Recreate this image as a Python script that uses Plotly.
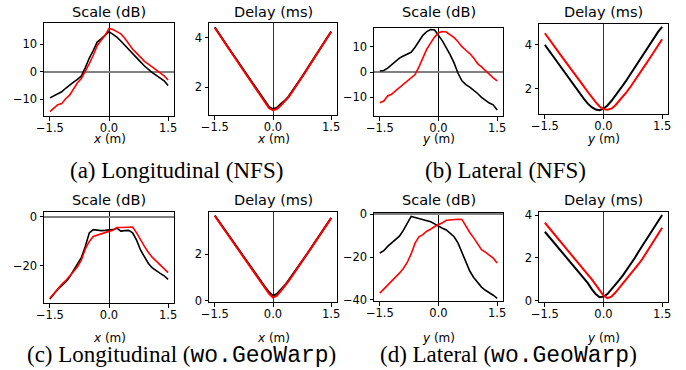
import plotly.graph_objects as go

W, H = 686, 370

# common x grid (m)
X = [-1.5, -1.4, -1.3, -1.2, -1.1, -1.0, -0.9, -0.8, -0.7, -0.6, -0.5, -0.4, -0.3, -0.2, -0.1,
     0.0, 0.1, 0.2, 0.3, 0.4, 0.5, 0.6, 0.7, 0.8, 0.9, 1.0, 1.1, 1.2, 1.3, 1.4, 1.5]

# (a) Longitudinal (NFS)
a_scale_black = [-9.5, -8.8, -8.2, -7.3, -6.0, -4.8, -3.8, -2.8, -1.5, 1.5, 5.0, 7.7, 10.8, 12.0, 13.2,
                 14.6, 13.6, 12.6, 11.2, 9.6, 8.0, 6.6, 5.2, 3.6, 2.1, 0.8, -0.3, -1.3, -2.3, -3.3, -5.0]
a_scale_red = [-14.5, -13.2, -12.0, -11.6, -9.8, -8.5, -6.0, -4.0, -2.5, 0.0, 3.0, 6.0, 9.5, 11.5, 13.2,
               15.8, 15.4, 14.6, 13.8, 12.2, 10.2, 8.2, 6.8, 5.3, 3.8, 2.8, 1.8, 0.6, -0.5, -1.5, -3.0]
a_delay_black = [4.42, 4.17, 3.94, 3.71, 3.48, 3.25, 3.02, 2.79, 2.56, 2.32, 2.08, 1.85, 1.61, 1.38, 1.2,
                 1.12, 1.17, 1.32, 1.45, 1.62, 1.84, 2.07, 2.3, 2.54, 2.79, 3.04, 3.28, 3.52, 3.76, 4.01, 4.25]
a_delay_red = [4.4, 4.15, 3.92, 3.69, 3.46, 3.23, 3.0, 2.77, 2.54, 2.3, 2.06, 1.83, 1.58, 1.34, 1.15,
               1.07, 1.12, 1.26, 1.42, 1.6, 1.82, 2.05, 2.28, 2.52, 2.77, 3.02, 3.27, 3.5, 3.75, 4.0, 4.24]

# (b) Lateral (NFS)
b_scale_black = [0.4, 0.6, 1.5, 2.8, 4.2, 5.5, 6.3, 6.9, 7.8, 9.8, 12.2, 14.5, 16.0, 16.8, 16.6,
                 14.5, 12.3, 9.5, 6.8, 3.5, -0.5, -3.5, -5.0, -6.0, -7.2, -8.5, -10.0, -11.2, -12.3, -13.0, -15.0]
b_scale_red = [-12.2, -11.5, -9.5, -8.8, -7.5, -6.2, -5.0, -3.5, -2.5, -1.0, 2.0, 5.5, 9.0, 11.5, 13.8,
               15.5, 16.0, 15.8, 14.8, 13.6, 12.0, 10.0, 8.6, 7.3, 5.5, 3.3, 2.0, 0.5, -1.2, -2.3, -3.5]
b_delay_black = [4.0, 3.77, 3.52, 3.27, 3.02, 2.77, 2.52, 2.27, 2.03, 1.79, 1.55, 1.33, 1.17, 1.06, 1.03,
                 1.1, 1.25, 1.45, 1.68, 1.92, 2.17, 2.43, 2.7, 2.97, 3.25, 3.53, 3.8, 4.08, 4.35, 4.6, 4.82]
b_delay_red = [4.53, 4.3, 4.05, 3.8, 3.55, 3.3, 3.07, 2.85, 2.6, 2.35, 2.1, 1.86, 1.62, 1.4, 1.2,
               1.08, 1.05, 1.1, 1.25, 1.45, 1.65, 1.88, 2.12, 2.37, 2.63, 2.9, 3.17, 3.44, 3.71, 3.99, 4.26]

# (c) Longitudinal (wo.GeoWarp)
c_scale_black = [-33.5, -31.5, -29.5, -28.0, -26.5, -24.5, -22.0, -19.5, -16.5, -12.0, -6.5, -5.2, -5.5, -5.6, -5.5,
                 -5.5, -5.2, -4.6, -5.8, -5.6, -5.5, -6.5, -9.5, -13.5, -16.5, -19.0, -20.8, -22.0, -23.0, -24.0, -25.5]
c_scale_red = [-33.2, -31.2, -29.2, -27.5, -26.0, -24.3, -22.3, -20.3, -17.5, -13.0, -10.0, -8.0, -7.4, -6.9, -6.5,
               -5.9, -5.4, -4.3, -4.3, -4.2, -4.1, -4.1, -6.5, -9.5, -12.0, -14.5, -16.5, -18.0, -19.5, -21.0, -22.7]
c_delay_black = [3.67, 3.43, 3.19, 2.95, 2.71, 2.47, 2.22, 1.98, 1.73, 1.49, 1.25, 1.01, 0.79, 0.58, 0.37,
                 0.22, 0.3, 0.47, 0.66, 0.88, 1.11, 1.34, 1.58, 1.82, 2.07, 2.32, 2.57, 2.82, 3.07, 3.32, 3.57]
c_delay_red = [3.65, 3.41, 3.17, 2.93, 2.69, 2.45, 2.2, 1.96, 1.71, 1.47, 1.22, 0.98, 0.76, 0.55, 0.3,
               0.14, 0.22, 0.42, 0.62, 0.85, 1.08, 1.32, 1.56, 1.8, 2.05, 2.3, 2.55, 2.8, 3.05, 3.3, 3.55]

# (d) Lateral (wo.GeoWarp)
d_scale_black = [-18.1, -17.0, -15.0, -13.4, -12.0, -10.2, -7.5, -4.0, -1.0, -1.5, -2.0, -2.4, -2.8, -3.5, -4.5,
                 -5.6, -6.5, -7.3, -9.0, -10.5, -13.5, -18.0, -22.5, -26.5, -29.5, -32.0, -34.0, -35.5, -36.5, -37.8, -39.3]
d_scale_red = [-36.8, -35.0, -33.2, -31.3, -29.5, -27.5, -25.3, -22.5, -18.5, -13.5, -10.5, -9.5, -7.9, -7.0, -5.7,
               -4.9, -4.0, -2.8, -2.6, -2.2, -2.3, -2.4, -5.5, -8.5, -11.0, -14.0, -16.5, -17.7, -19.0, -20.5, -22.8]
d_delay_black = [3.22, 3.0, 2.78, 2.56, 2.34, 2.13, 1.92, 1.7, 1.49, 1.27, 1.05, 0.83, 0.55, 0.32, 0.17,
                 0.2, 0.32, 0.52, 0.74, 0.97, 1.2, 1.45, 1.7, 2.0, 2.3, 2.58, 2.87, 3.15, 3.43, 3.72, 4.0]
d_delay_red = [3.64, 3.42, 3.2, 2.98, 2.76, 2.55, 2.35, 2.15, 1.93, 1.7, 1.47, 1.24, 1.0, 0.76, 0.5,
               0.25, 0.13, 0.2, 0.38, 0.6, 0.8, 1.02, 1.25, 1.48, 1.72, 1.97, 2.25, 2.53, 2.82, 3.11, 3.41]

x_tickvals = [-1.5, 0.0, 1.5]
x_ticktext = ["\u22121.5", "0.0", "1.5"]

titles = ["Scale (dB)", "Delay (ms)"]
captions = ["(a) Longitudinal (NFS)", "(b) Lateral (NFS)",
            "(c) Longitudinal (<span style='font-family:Liberation Mono'>wo.GeoWarp</span>)",
            "(d) Lateral (<span style='font-family:Liberation Mono'>wo.GeoWarp</span>)"]

# panel definitions: (pixel box left, right, top, bottom), y range, y ticks, data, axis letter, is_scale
panels = [
    ((44, 174, 23, 116), [-16.1, 17.75], [-10, 0, 10], a_scale_black, a_scale_red, "x", True),
    ((209, 337, 23, 115), [0.88, 4.59], [2, 4], a_delay_black, a_delay_red, "x", False),
    ((374, 503, 28, 116), [-17.4, 17.4], [-10, 0, 10], b_scale_black, b_scale_red, "y", True),
    ((539, 668, 24, 114), [0.86, 4.95], [2, 4], b_delay_black, b_delay_red, "y", False),
    ((44, 174, 212, 303), [-35.1, 2.0], [-20, 0], c_scale_black, c_scale_red, "x", True),
    ((209, 337, 212, 302), [-0.05, 3.82], [0, 2], c_delay_black, c_delay_red, "x", False),
    ((374, 503, 213, 301), [-40.5, 0.6], [-40, -20, 0], d_scale_black, d_scale_red, "y", True),
    ((539, 668, 212, 302), [-0.05, 4.14], [0, 2, 4], d_delay_black, d_delay_red, "y", False),
]

FONT = "DejaVu Sans"
fig = go.Figure()
layout = dict(width=W, height=H, margin=dict(l=0, r=0, t=0, b=0, autoexpand=False),
              paper_bgcolor="white", plot_bgcolor="white", showlegend=False,
              font=dict(family=FONT, size=11.5, color="black"))
annotations = []

def fmt(v):
    return str(v).replace("-", "\u2212")

for i, (box, yr, yt, yb, yred, letter, is_scale) in enumerate(panels):
    n = i + 1
    xa = "xaxis" if n == 1 else f"xaxis{n}"
    ya = "yaxis" if n == 1 else f"yaxis{n}"
    xref = "x" if n == 1 else f"x{n}"
    yref = "y" if n == 1 else f"y{n}"
    l, r, t, b = box
    layout[xa] = dict(domain=[l / W, r / W], range=[-1.65, 1.65], anchor=yref, automargin=False,
                      tickvals=x_tickvals, ticktext=x_ticktext, ticks="outside", ticklen=3.5,
                      tickwidth=1, tickcolor="black", showgrid=False, ticklabelstandoff=-2,
                      showline=True, mirror=True, linecolor="black", linewidth=1,
                      zeroline=True, zerolinecolor="black" if is_scale else "#333333", zerolinewidth=1,
                      tickfont=dict(size=11.5, family=FONT, color="black"))
    layout[ya] = dict(domain=[1 - b / H, 1 - t / H], range=yr, anchor=xref, automargin=False,
                      tickvals=yt, ticktext=[fmt(v) for v in yt], ticks="outside", ticklen=3.5,
                      tickwidth=1, tickcolor="black", showgrid=False,
                      showline=True, mirror=True, linecolor="black", linewidth=1,
                      zeroline=is_scale, zerolinecolor="#808080", zerolinewidth=1.6,
                      tickfont=dict(size=11.5, family=FONT, color="black"))
    lw = 1.6 if is_scale else 2.0
    fig.add_trace(go.Scatter(x=X, y=yb, mode="lines", line=dict(color="black", width=lw),
                             xaxis=xref, yaxis=yref, hoverinfo="skip"))
    fig.add_trace(go.Scatter(x=X, y=yred, mode="lines", line=dict(color="#ff0000", width=lw),
                             xaxis=xref, yaxis=yref, hoverinfo="skip"))
    cx = (l + r) / 2 / W
    row_top = 12 if n <= 4 else 200
    annotations.append(dict(text=titles[0] if is_scale else titles[1], xref="paper", yref="paper",
                            x=cx, y=1 - row_top / H, xanchor="center", yanchor="middle",
                            showarrow=False, font=dict(size=14.5, family=FONT, color="black")))
    lab_y = 138.5 if n <= 4 else 338
    annotations.append(dict(text=f"<i>{letter}</i> (m)", xref="paper", yref="paper",
                            x=cx, y=1 - lab_y / H, xanchor="center", yanchor="middle",
                            showarrow=False, font=dict(size=12, family=FONT, color="black")))

cap_pos = [(176, 170), (505, 170), (181, 355.5), (508, 355.5)]
for text, (cx, cy) in zip(captions, cap_pos):
    annotations.append(dict(text=text, xref="paper", yref="paper", x=cx / W, y=1 - cy / H,
                            xanchor="center", yanchor="middle", showarrow=False,
                            font=dict(size=23, family="Liberation Serif", color="black")))

layout["annotations"] = annotations
fig.update_layout(**layout)
fig.write_html("out.html", config={"displayModeBar": False},
               post_script="document.body.style.margin='0';document.body.style.overflow='hidden';")
